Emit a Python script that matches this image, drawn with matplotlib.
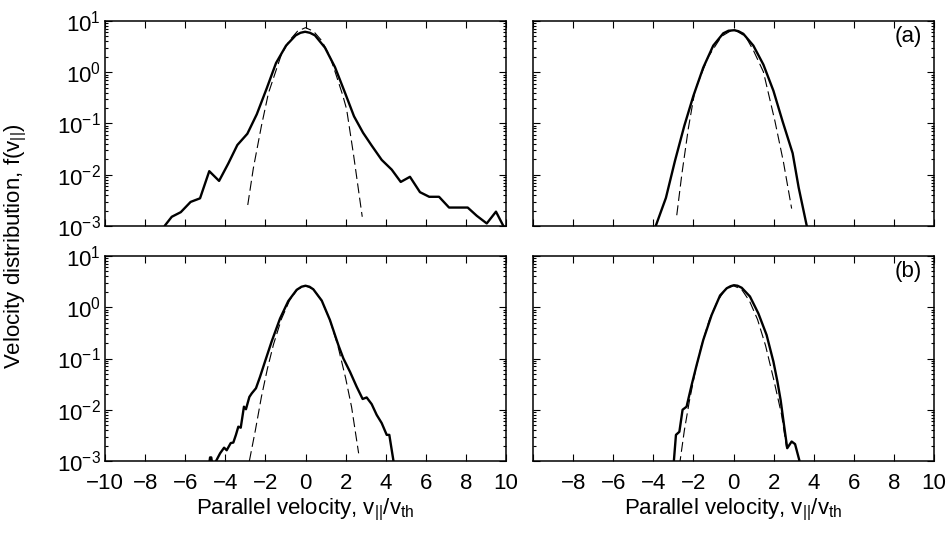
import numpy as np
import matplotlib
matplotlib.use("Agg")
import matplotlib.pyplot as plt
from matplotlib.ticker import LogLocator, NullFormatter

plt.rcParams['font.family'] = ['Liberation Sans', 'DejaVu Sans']
plt.rcParams['mathtext.fontset'] = 'custom'
plt.rcParams['mathtext.rm'] = 'Liberation Sans'
plt.rcParams['mathtext.it'] = 'Liberation Sans:italic'
plt.rcParams['mathtext.default'] = 'regular'
plt.rcParams['axes.unicode_minus'] = True

# ---------------- data (log10 of f) ----------------
# (a) left: measured distribution
a_left_v = [-7.2, -7.01, -6.67, -6.22, -5.73, -5.26, -4.80, -4.31, -3.85, -3.40, -2.90, -2.43, -1.93,
            -1.47, -0.97, -0.49, -0.25, -0.02, 0.22, 0.47, 0.97, 1.47, 1.97, 2.42, 2.87, 3.30, 3.80, 4.30,
            4.75, 5.21, 5.71, 6.17, 6.66, 7.16, 8.09, 8.54, 9.04, 9.50, 9.87, 10.0]
a_left_logf = [-3.2, -2.99, -2.82, -2.73, -2.53, -2.46, -1.93, -2.12, -1.78, -1.42, -1.20, -0.82, -0.31,
               0.18, 0.52, 0.72, 0.77, 0.79, 0.77, 0.72, 0.48, 0.10, -0.40, -0.86, -1.18, -1.43, -1.71,
               -1.90, -2.14, -2.04, -2.34, -2.43, -2.43, -2.64, -2.64, -2.80, -2.95, -2.72, -3.0, -3.1]
# (a) left: Maxwellian fit
a_left_fit_v = [-2.88, -2.6, -2.2, -1.85, -1.5, -1.2, -0.8, -0.4, 0.0, 0.4, 0.8, 1.2, 1.5, 1.85, 2.05, 2.4, 2.83]
a_left_fit_logf = [-2.59, -1.87, -1.05, -0.41, 0.0, 0.35, 0.62, 0.80, 0.87, 0.80, 0.62, 0.33, -0.02, -0.44,
                   -0.72, -1.62, -2.82]

# (a) right: measured distribution
a_right_v = [-4.0, -3.87, -3.37, -2.92, -2.45, -2.0, -1.51, -1.01, -0.51, -0.25, 0.04, 0.25, 0.49, 0.99,
             1.49, 1.99, 2.45, 2.95, 3.25, 3.65, 3.75]
a_right_logf = [-3.2, -2.99, -2.45, -1.73, -1.04, -0.46, 0.09, 0.52, 0.76, 0.81, 0.82, 0.80, 0.75, 0.52,
                0.15, -0.36, -0.96, -1.58, -2.25, -2.99, -3.2]
# (a) right: Maxwellian fit
a_right_fit_v = [-2.83, -2.58, -2.25, -1.92, -1.26, -0.6, 0.0, 0.6, 1.0, 1.49, 2.07, 2.49, 2.90]
a_right_fit_logf = [-2.79, -2.0, -1.09, -0.35, 0.30, 0.70, 0.84, 0.70, 0.42, 0.01, -0.96, -1.75, -2.66]

# (b) left: measured distribution
b_left_v = [-4.85, -4.76, -4.70, -4.60, -4.46, -4.26, -4.06, -3.93, -3.73, -3.60, -3.47, -3.35, -3.23, -3.07,
            -2.97, -2.80, -2.68, -2.47, -2.27, -2.02, -1.69, -1.27, -0.86, -0.44, -0.2, 0.0, 0.2, 0.39, 0.81,
            1.22, 1.64, 1.89, 2.22, 2.55, 2.85, 3.05, 3.30, 3.55, 3.80, 4.05, 4.18, 4.38, 4.45]
b_left_logf = [-3.2, -2.93, -2.93, -3.2, -3.0, -2.85, -2.74, -2.79, -2.65, -2.64, -2.49, -2.33, -2.35, -1.94,
               -1.99, -1.75, -1.68, -1.58, -1.36, -1.06, -0.67, -0.22, 0.12, 0.34, 0.40, 0.42, 0.40, 0.35, 0.13,
               -0.25, -0.74, -1.0, -1.26, -1.55, -1.79, -1.76, -1.89, -2.10, -2.26, -2.49, -2.49, -2.98, -3.2]
# (b) left: Maxwellian fit
b_left_fit_v = [-2.8, -2.5, -2.2, -1.9, -1.6, -1.2, -0.8, -0.4, 0.0, 0.4, 0.8, 1.2, 1.6, 2.0, 2.3, 2.65]
b_left_fit_logf = [-3.0, -2.4, -1.75, -1.20, -0.73, -0.23, 0.13, 0.35, 0.42, 0.35, 0.13, -0.23, -0.73,
                   -1.38, -1.95, -2.85]

# (b) right: measured distribution
b_right_v = [-3.0, -2.97, -2.87, -2.70, -2.54, -2.34, -2.09, -1.84, -1.51, -1.09, -0.67, -0.34, -0.15, 0.02,
             0.2, 0.41, 0.82, 1.24, 1.65, 1.99, 2.19, 2.35, 2.52, 2.68, 2.90, 3.07, 3.28, 3.32]
b_right_logf = [-3.2, -2.98, -2.49, -2.43, -2.0, -1.94, -1.52, -1.13, -0.64, -0.15, 0.23, 0.37, 0.41, 0.43,
                0.42, 0.38, 0.21, -0.12, -0.54, -1.06, -1.45, -1.81, -2.30, -2.75, -2.62, -2.67, -2.98, -3.2]
# (b) right: Maxwellian fit
b_right_fit_v = [-2.7, -2.45, -2.2, -1.9, -1.6, -1.2, -0.8, -0.4, 0.0, 0.4, 0.8, 1.2, 1.6, 2.0, 2.4, 2.65]
b_right_fit_logf = [-3.1, -2.4, -1.83, -1.24, -0.75, -0.24, 0.12, 0.35, 0.42, 0.35, 0.12, -0.24, -0.75,
                    -1.40, -2.1, -2.75]

x_ticks = [-10, -8, -6, -4, -2, 0, 2, 4, 6, 8, 10]
x_ticks_right = [-8, -6, -4, -2, 0, 2, 4, 6, 8, 10]
panel_labels = ['(a)', '(b)']
xlabel = r'Parallel velocity, v$_{||}$/v$_{th}$'
ylabel = r'Velocity distribution, f(v$_{||}$)'

# ---------------- figure ----------------
W, H = 950, 534
fig = plt.figure(figsize=(W / 100, H / 100), dpi=100)

def frac(x0, y0, x1, y1):
    return [x0 / W, 1 - y1 / H, (x1 - x0) / W, (y1 - y0) / H]

pos = {
    (0, 0): frac(105, 21, 506, 226),
    (0, 1): frac(533, 21, 934, 226),
    (1, 0): frac(105, 256, 506, 461),
    (1, 1): frac(533, 256, 934, 461),
}

series = {
    (0, 0): (a_left_v, a_left_logf, a_left_fit_v, a_left_fit_logf),
    (0, 1): (a_right_v, a_right_logf, a_right_fit_v, a_right_fit_logf),
    (1, 0): (b_left_v, b_left_logf, b_left_fit_v, b_left_fit_logf),
    (1, 1): (b_right_v, b_right_logf, b_right_fit_v, b_right_fit_logf),
}

FS = 16
for (r, c), p in pos.items():
    ax = fig.add_axes(p)
    v, lf, fv, flf = series[(r, c)]
    ax.plot(fv, 10 ** np.array(flf), color='black', lw=0.8, dashes=(9, 4))
    ax.plot(v, 10 ** np.array(lf), color='black', lw=1.7, solid_joinstyle='round')
    ax.set_yscale('log')
    ax.set_xlim(-10, 10)
    ax.set_ylim(1e-3, 1e1)
    ax.yaxis.set_major_locator(LogLocator(base=10, numticks=10))
    ax.yaxis.set_minor_locator(LogLocator(base=10, subs=np.arange(2, 10), numticks=10))
    ax.yaxis.set_minor_formatter(NullFormatter())
    ax.tick_params(which='both', direction='in', top=True, right=True, labelsize=FS, width=0.8)
    ax.tick_params(which='major', length=5)
    ax.tick_params(axis='y', which='major', pad=3)
    ax.tick_params(axis='x', which='major', pad=8.5)
    ax.tick_params(which='minor', length=2.5)
    ax.tick_params(axis='x', which='minor', length=0)
    for s in ax.spines.values():
        s.set_linewidth(1.1)
    ax.set_xticks(x_ticks)
    if c == 1:
        ax.yaxis.set_major_formatter(NullFormatter())
    if r == 0:
        ax.set_xticklabels([])
    else:
        labs = [('' if (c == 1 and t not in x_ticks_right) else str(t).replace('-', '\u2212')) for t in x_ticks]
        ax.set_xticklabels(labs)
        ax.set_xlabel(xlabel, fontsize=FS, labelpad=2)
    if c == 1:
        ax.text(0.97, 0.975, panel_labels[r], transform=ax.transAxes, ha='right', va='top', fontsize=FS)

fig.text(16 / W, 1 - 246 / H, ylabel, rotation=90, ha='center', va='center', fontsize=FS)

fig.savefig('out.png', dpi=100)
